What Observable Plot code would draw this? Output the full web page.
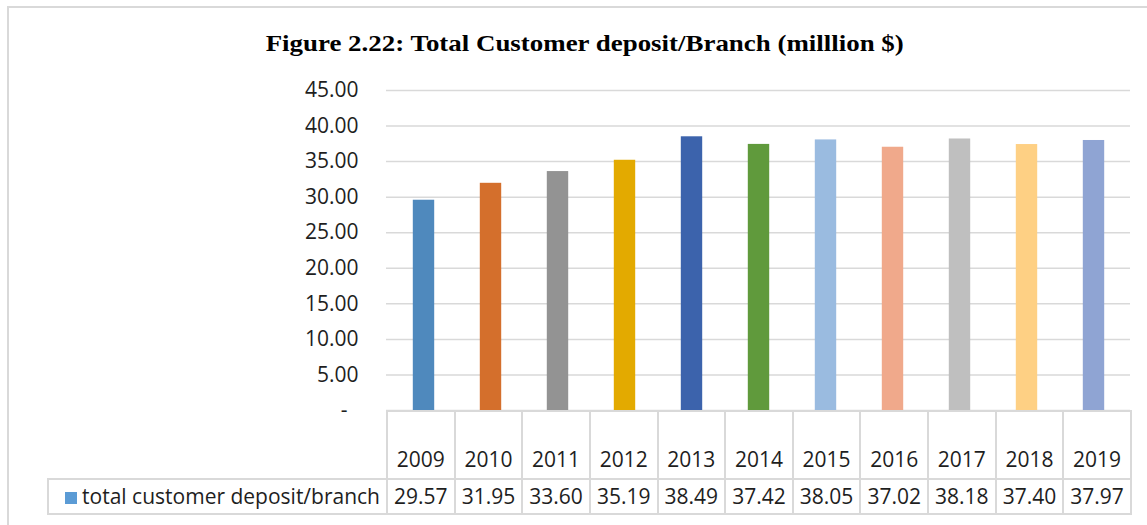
<!DOCTYPE html>
<html>
<head>
<meta charset="utf-8">
<script src="https://cdn.jsdelivr.net/npm/d3@7"></script>
<script src="https://cdn.jsdelivr.net/npm/@observablehq/plot@0.6"></script>
<style>
  html, body { margin: 0; padding: 0; background: #fff; }
  #wrap { position: relative; width: 1147px; height: 525px; overflow: hidden; background: #fff; font-family: "Open Sans", sans-serif; color: #1e1e1e; }
  #frame { position: absolute; left: 7px; top: 6px; width: 1200px; height: 600px; border-left: 2px solid #d9d9d9; border-top: 2px solid #d9d9d9; box-sizing: border-box; }
  #title { position: absolute; left: 0; top: 31px; width: 1170px; text-align: center; font-family: "Liberation Serif", "Times New Roman", serif; font-weight: bold; font-size: 23px; line-height: 26px; color: #000; }
  #title span { display: inline-block; transform: scaleX(1.17); transform-origin: 50% 50%; }
  #chart { position: absolute; left: 0; top: 0; }
  #table { position: absolute; top: 410px; border-collapse: collapse; table-layout: fixed; font-size: 21px; }
  #table td { border: 2px solid #d9d9d9; text-align: center; padding: 0; white-space: nowrap; overflow: hidden; }
  #table tr.head td { height: 60px; vertical-align: bottom; line-height: 25px; padding-bottom: 6px; }
  #table tr.head td.blank { border: none; }
  #table tr.vals td { height: 33px; vertical-align: middle; line-height: 25px; }
  #table td.legend { text-align: right; padding-right: 6px; }
  .swatch { display: inline-block; width: 12px; height: 12px; background: #5b9bd5; margin-right: 5px; vertical-align: 0px; }
</style>
</head>
<body>
<div id="wrap">
  <div id="frame"></div>
  <div id="chart"></div>
  <div id="title"><span></span></div>
</div>
<script>
const titleText = "Figure 2.22: Total Customer deposit/Branch (milllion $)";
const seriesName = "total customer deposit/branch";
const years = ["2009","2010","2011","2012","2013","2014","2015","2016","2017","2018","2019"];
const values = [29.57, 31.95, 33.60, 35.19, 38.49, 37.42, 38.05, 37.02, 38.18, 37.40, 37.97];
const barColors = ["#4f89bd","#d46f2c","#939393","#e3aa00","#3c63ac","#609a3c","#9abbe0","#f0a98b","#bfbfbf","#fed084","#8fa4d3"];
const yTicks = [0, 5, 10, 15, 20, 25, 30, 35, 40, 45];
const legendColor = "#5b9bd5";

const data = years.map((year, i) => ({year, value: values[i]}));
const fmt = d3.format(".2f");

document.querySelector("#title span").textContent = titleText;

const chart = Plot.plot({
  width: 1147,
  height: 430,
  marginLeft: 386,
  marginRight: 17,
  marginTop: 90,
  marginBottom: 20,
  style: {fontFamily: "'Open Sans', sans-serif", fontSize: "21px", color: "#1e1e1e", background: "transparent"},
  x: {domain: years, padding: 0, axis: null},
  y: {domain: [0, 45]},
  color: {domain: years, range: barColors},
  marks: [
    Plot.gridY(yTicks, {stroke: "#d9d9d9", strokeOpacity: 1, strokeWidth: 1.5}),
    Plot.barY(data, {x: "year", y: "value", fill: "year", insetLeft: 22.8, insetRight: 22.8}),
    Plot.axisY(yTicks, {
      tickSize: 0,
      tickPadding: 28,
      label: null,
      fill: "#1e1e1e",
      tickFormat: d => d === 0 ? "-\u00a0\u00a0" : fmt(d)
    })
  ]
});
document.getElementById("chart").appendChild(chart);

// data table under the bars, aligned on the x scale
const xs = chart.scale("x");
const step = (xs.range[1] - xs.range[0]) / xs.domain.length;
const tableLeft = 47;
const table = document.createElement("table");
table.id = "table";
table.style.left = tableLeft + "px";
const colgroup = document.createElement("colgroup");
const c0 = document.createElement("col");
c0.style.width = (xs.range[0] - tableLeft) + "px";
colgroup.appendChild(c0);
years.forEach(() => {
  const c = document.createElement("col");
  c.style.width = step + "px";
  colgroup.appendChild(c);
});
table.appendChild(colgroup);
table.style.width = (xs.range[1] - tableLeft) + "px";

const head = document.createElement("tr");
head.className = "head";
const blank = document.createElement("td");
blank.className = "blank";
head.appendChild(blank);
years.forEach(y => {
  const td = document.createElement("td");
  td.textContent = y;
  head.appendChild(td);
});
table.appendChild(head);

const row = document.createElement("tr");
row.className = "vals";
const lg = document.createElement("td");
lg.className = "legend";
const sw = document.createElement("span");
sw.className = "swatch";
sw.style.background = legendColor;
lg.appendChild(sw);
lg.appendChild(document.createTextNode(seriesName));
row.appendChild(lg);
values.forEach(v => {
  const td = document.createElement("td");
  td.textContent = fmt(v);
  row.appendChild(td);
});
table.appendChild(row);
document.getElementById("wrap").appendChild(table);
</script>
</body>
</html>
